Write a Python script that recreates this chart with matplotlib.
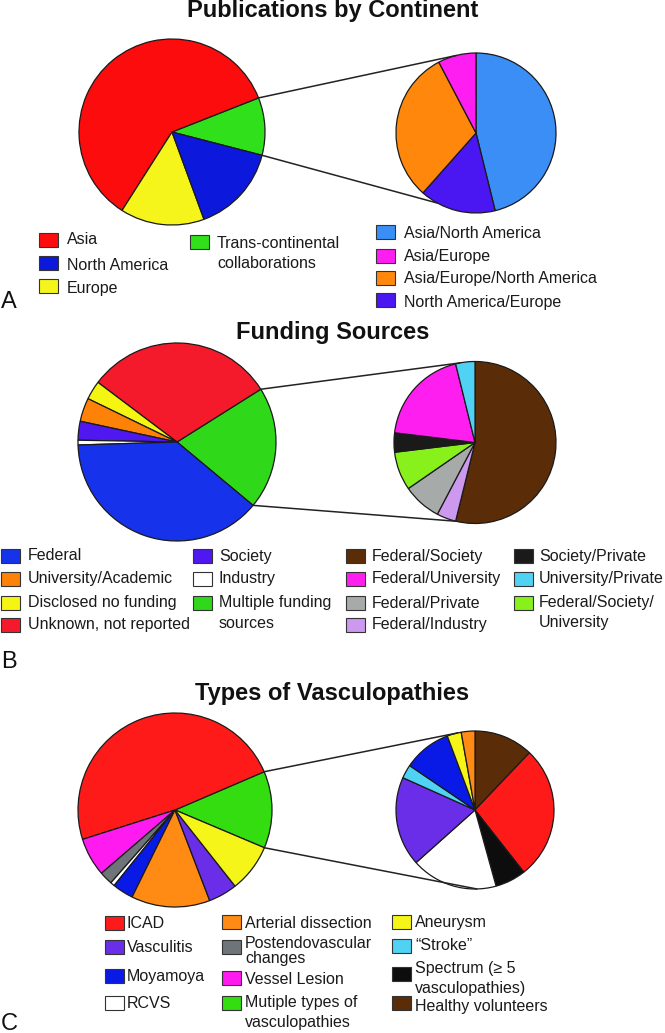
import numpy as np
import matplotlib
matplotlib.use("Agg")
import matplotlib.pyplot as plt
from matplotlib.patches import Rectangle, ConnectionPatch

plt.rcParams['font.family'] = ['Liberation Sans', 'DejaVu Sans']

W, H = 665, 1033
EDGE = '#1a1a1a'

# ---- Panel A: publications by continent ----
cont_labels = ['Asia', 'North America', 'Europe', 'Trans-continental\ncollaborations']
cont_values = [78, 20, 19, 13]
cont_colors = ['#fc0c0c', '#0c18dc', '#f5f51c', '#30e01a']
cont_order = [3, 0, 2, 1]          # counter-clockwise, highlighted wedge first

trans_labels = ['Asia/North America', 'Asia/Europe', 'Asia/Europe/North America',
                'North America/Europe']
trans_values = [6, 1, 4, 2]
trans_colors = ['#3a8ef5', '#ff1ef2', '#ff880c', '#4a16f2']
trans_order = [0, 3, 2, 1]         # clockwise from top

# ---- Panel B: funding sources ----
fund_labels = ['Federal', 'University/Academic', 'Disclosed no funding',
               'Unknown, not reported', 'Society', 'Industry',
               'Multiple funding\nsources']
fund_values = [50, 5, 4, 40, 4, 1, 26]
fund_colors = ['#1632ea', '#ff8208', '#f5f514', '#f51a2b', '#5018f0', '#ffffff', '#30d81a']
fund_order = [6, 3, 2, 1, 4, 5, 0]

multi_labels = ['Federal/Society', 'Federal/University', 'Federal/Private',
                'Federal/Industry', 'Society/Private', 'University/Private',
                'Federal/Society/\nUniversity']
multi_values = [14, 5, 2, 1, 1, 1, 2]
multi_colors = ['#5a2d08', '#ff1ef0', '#a6abaa', '#cc99ee', '#1a1a1a', '#50d2f5', '#88f01a']
multi_order = [0, 3, 2, 6, 4, 1, 5]

# ---- Panel C: types of vasculopathies ----
vasc_labels = ['ICAD', 'Vasculitis', 'Moyamoya', 'RCVS', 'Arterial dissection',
               'Postendovascular\nchanges', 'Vessel Lesion',
               'Mutiple types of\nvasculopathies', 'Aneurysm', '\u201cStroke\u201d',
               'Spectrum (\u2265 5\nvasculopathies)', 'Healthy volunteers']
vasc_colors = ['#ff1a1a', '#6a2ee8', '#0a1ae6', '#ffffff', '#ff8a14', '#6e7478',
               '#ff1af0', '#33dd10', '#f5f51a', '#50d2f5', '#0d0d0d', '#5a2d08']
vasc_main_idx = [7, 0, 6, 5, 3, 2, 4, 1, 8]
vasc_main_values = [12.8, 48.4, 6.4, 2.2, 0.7, 3.5, 13.1, 4.8, 8.0]
vasc_mixed_idx = [11, 0, 10, 3, 1, 9, 2, 8, 4]
vasc_mixed_values = [12.1, 27.3, 6.3, 17.7, 18.3, 2.8, 9.8, 2.9, 2.8]

fig = plt.figure(figsize=(W / 100, H / 100), dpi=100)


def fx(x):
    return x / W


def fy(y):
    return 1 - y / H


def pie_at(cx, cy, r, values, colors, start, ccw):
    ax = fig.add_axes([fx(cx - r), fy(cy + r), 2 * r / W, 2 * r / H])
    wedges, _ = ax.pie(values, colors=colors, startangle=start, counterclock=ccw,
                       wedgeprops=dict(edgecolor=EDGE, linewidth=0.9, clip_on=False))
    ax.set_xlim(-1, 1)
    ax.set_ylim(-1, 1)
    ax.set_aspect('auto')
    ax.axis('off')
    return ax, wedges


def connect(ax1, wedge, ax2, b_top, b_bot):
    for a, b in ((wedge.theta2, b_top), (wedge.theta1, b_bot)):
        a, b = np.radians(a), np.radians(b)
        con = ConnectionPatch(xyA=(np.cos(a), np.sin(a)), coordsA=ax1.transData,
                              xyB=(np.cos(b), np.sin(b)), coordsB=ax2.transData,
                              color='#222222', lw=1.1)
        fig.add_artist(con)


def legend_item(sx, sy, tx, ty, color, label, gap=20):
    fig.add_artist(Rectangle((fx(sx), fy(sy + 7)), 19 / W, 14 / H,
                             transform=fig.transFigure, facecolor=color,
                             edgecolor='#333333', lw=0.8))
    for i, line in enumerate(label.split('\n')):
        fig.text(fx(tx), fy(ty + i * gap), line, fontsize=11.5, va='center',
                 ha='left', color='#1a1a1a')


def title(y, s):
    fig.text(0.5, fy(y), s, fontsize=17, fontweight='bold', ha='center',
             va='baseline', color='#111111')


def panel(y, s):
    fig.text(fx(1), fy(y), s, fontsize=17, ha='left', va='baseline', color='#111111')


# ---------------- A ----------------
title(17, 'Publications by Continent')
axA1, wA1 = pie_at(172, 132, 93, [cont_values[i] for i in cont_order],
                   [cont_colors[i] for i in cont_order], -14.5, True)
axA2, wA2 = pie_at(476, 133, 80, [trans_values[i] for i in trans_order],
                   [trans_colors[i] for i in trans_order], 90, False)
connect(axA1, wA1[0], axA2, 104.2, -118.9)
for i, (sy, ty) in enumerate([(240, 240), (263, 265), (286, 288)]):
    legend_item(39, sy, 67, ty, cont_colors[i], cont_labels[i])
legend_item(190, 242, 217, 243, cont_colors[3], cont_labels[3])
for i, (sy, ty) in enumerate([(232, 234), (256, 257), (278, 279), (300, 302)]):
    legend_item(376, sy, 404, ty, trans_colors[i], trans_labels[i])
panel(308, 'A')

# ---------------- B ----------------
title(339, 'Funding Sources')
axB1, wB1 = pie_at(177, 442, 99, [fund_values[i] for i in fund_order],
                   [fund_colors[i] for i in fund_order], -39.8, True)
axB2, wB2 = pie_at(475, 442.5, 81, [multi_values[i] for i in multi_order],
                   [multi_colors[i] for i in multi_order], 90, False)
connect(axB1, wB1[0], axB2, 100.7, -103.6)
rowsB = [556, 579, 603, 625]
for i in range(4):
    legend_item(1, rowsB[i], 28, rowsB[i], fund_colors[i], fund_labels[i])
for k, i in enumerate([4, 5, 6]):
    legend_item(193, rowsB[k], 219, rowsB[k], fund_colors[i], fund_labels[i])
for k, i in enumerate([0, 1, 2, 3]):
    legend_item(346, rowsB[k], 372, rowsB[k], multi_colors[i], multi_labels[i])
for k, i in enumerate([4, 5, 6]):
    legend_item(514, rowsB[k], 539, rowsB[k], multi_colors[i], multi_labels[i])
panel(668, 'B')

# ---------------- C ----------------
title(700, 'Types of Vasculopathies')
axC1, wC1 = pie_at(175, 810, 97, vasc_main_values,
                   [vasc_colors[i] for i in vasc_main_idx], -22.9, True)
axC2, wC2 = pie_at(475, 810, 79, vasc_mixed_values,
                   [vasc_colors[i] for i in vasc_mixed_idx], 90, False)
connect(axC1, wC1[0], axC2, 102.5, -88.6)
layoutC = [  # (label index, square x, square y, text x, text y, line gap)
    (0, 105, 923, 127, 923, 20), (1, 105, 947, 127, 948, 20),
    (2, 105, 976, 127, 977, 20), (3, 105, 1003, 127, 1003, 20),
    (4, 222, 922, 245, 923, 20), (5, 222, 947, 245, 944, 14),
    (6, 222, 978, 245, 979, 20), (7, 222, 1003, 245, 1003, 19),
    (8, 392, 922, 415, 923, 20), (9, 392, 946, 415, 946, 20),
    (10, 392, 974, 415, 968, 20), (11, 392, 1003, 415, 1006, 20),
]
for i, sx, sy, tx, ty, g in layoutC:
    legend_item(sx, sy, tx, ty, vasc_colors[i], vasc_labels[i], gap=g)
panel(1030, 'C')

fig.savefig('out.png', dpi=100, facecolor='white')
